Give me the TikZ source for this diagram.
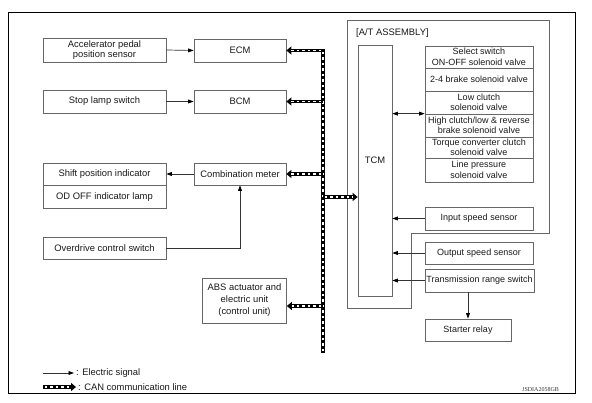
\documentclass[tikz,border=0pt]{standalone}
\usepackage{fontspec}
\setmainfont{Liberation Sans}
\newfontfamily\wmfont{Liberation Serif}
\usetikzlibrary{arrows.meta}
\begin{document}
\begin{tikzpicture}[x=1pt,y=-1pt,
  box/.style={draw=black!60, line width=0.7pt, inner sep=0pt, align=center,
    font=\fontsize{9.4}{10.5}\selectfont, text=black!90},
  rbox/.style={box, font=\fontsize{9}{10.5}\selectfont},
  txt/.style={inner sep=0pt, font=\fontsize{9.4}{10.5}\selectfont, text=black!90},
  tip/.tip={Triangle[length=5.5pt,width=3.8pt,black]},
  sig/.style={draw=black!80, line width=0.7pt, -tip},
  can/.style={line width=3.6pt, draw=black, -{Triangle[length=5pt,width=8pt]},
    postaction={draw=white, line width=1.3pt, dash pattern=on 2.5pt off 3pt, -, shorten >=5pt, shorten <=1.9pt}},
  atline/.style={draw=black!60, line width=0.7pt}]
\useasboundingbox (0,0) rectangle (592,403);
\draw[line width=0.9pt] (8,12) rectangle (575,393);

% left column
\node[box, minimum width=123pt, minimum height=24pt] (aps) at (104.5,50) {Accelerator pedal\\position sensor};
\node[box, minimum width=123pt, minimum height=23pt] (sls) at (104.5,101.5) {Stop lamp switch};
\node[box, minimum width=123pt, minimum height=22pt] (spi) at (104.5,174) {Shift position indicator};
\node[box, minimum width=123pt, minimum height=23pt, anchor=north] (odl) at (spi.south) {OD OFF indicator lamp};
\node[box, minimum width=123pt, minimum height=22pt] (ods) at (104.5,248) {Overdrive control switch};

% middle column
\node[box, minimum width=92pt, minimum height=23pt] (ecm) at (240,50.5) {ECM};
\node[box, minimum width=92pt, minimum height=23pt] (bcm) at (240,101.5) {BCM};
\node[box, minimum width=92pt, minimum height=22pt] (cm) at (240,174) {Combination meter};
\node[box, minimum width=84pt, minimum height=45pt, font=\fontsize{9.4}{12}\selectfont] (abs) at (244.5,300.5) {ABS actuator and\\electric unit\\(control unit)};

% A/T assembly
\draw[atline] (347,20) -- (549,20) -- (549,233) -- (411,233) -- (411,308) -- (347,308) -- cycle;
\node[txt, anchor=west] (atlbl) at (356,33) {[A/T ASSEMBLY]};
\node[box, minimum width=34pt, minimum height=251pt] (tcm) at (375,170.5) {};
\node[txt] (tcmlbl) at (375,160) {TCM};

\node[rbox, minimum width=108pt, minimum height=22pt] (sel) at (479,57) {Select switch\\ON-OFF solenoid valve};
\node[rbox, minimum width=108pt, minimum height=23pt] (b24) at (479,79.5) {2-4 brake solenoid valve};
\node[rbox, minimum width=108pt, minimum height=23pt] (low) at (479,102.5) {Low clutch\\solenoid valve};
\node[rbox, minimum width=108pt, minimum height=23pt] (high) at (479,125.5) {High clutch/low \& reverse\\brake solenoid valve};
\node[rbox, minimum width=108pt, minimum height=21pt] (tcc) at (479,147.5) {Torque converter clutch\\solenoid valve};
\node[rbox, minimum width=108pt, minimum height=24pt] (lp) at (479,170) {Line pressure\\solenoid valve};

\node[rbox, minimum width=108pt, minimum height=23pt] (iss) at (479,218.5) {Input speed sensor};
\node[rbox, minimum width=108pt, minimum height=22pt] (oss) at (479,253) {Output speed sensor};
\node[rbox, minimum width=109pt, minimum height=23pt] (trs) at (479.5,280.5) {Transmission range switch};
\node[rbox, minimum width=86pt, minimum height=22pt] (sr) at (468,330) {Starter relay};

% electric signals
\draw[sig] (aps.east) -- (ecm.west);
\draw[sig] (sls.east) -- (bcm.west);
\draw[sig] (cm.west) -- (spi.east);
\draw[sig] (ods.east) -| (cm.south);
\draw[sig, tip-tip] (tcm.east |- high.north west) -- (high.north west);
\draw[sig] (iss.west) -- (iss.west -| tcm.east);
\draw[sig] (oss.west) -- (oss.west -| tcm.east);
\draw[sig] (trs.west) -- (trs.west -| tcm.east);
\draw[sig] (sr.north |- trs.south) -- (sr.north);

% CAN bus
\coordinate (bustop) at (323,50.5);
\coordinate (busbot) at (323,353);
\coordinate (bB) at (323,101.5);
\coordinate (bC) at (323,174);
\coordinate (bT) at (323,197);
\coordinate (bA) at (323,306);
\draw[can] (busbot) -- (bustop) -- (ecm.east);
\draw[can] (bB) -- (bB -| bcm.east);
\draw[can] (bC) -- (bC -| cm.east);
\draw[can] (bT) -- (bT -| tcm.west);
\draw[can] (bA) -- (bA -| abs.east);

% legend
\coordinate (le1) at (43,373);
\coordinate (le2) at (74,373);
\coordinate (lc1) at (43,387);
\coordinate (lc2) at (76,387);
\draw[sig] (le1) -- (le2);
\draw[can] (lc1) -- (lc2);
\node[txt, anchor=west] (let) at (76,373) {: Electric signal};
\node[txt, anchor=west] (lct) at (78,387) {: CAN communication line};

\node[inner sep=0pt, font=\wmfont\fontsize{6}{6}\selectfont, text=black!80] (wm) at (540.5,390) {JSDIA2058GB};
\end{tikzpicture}
\end{document}
